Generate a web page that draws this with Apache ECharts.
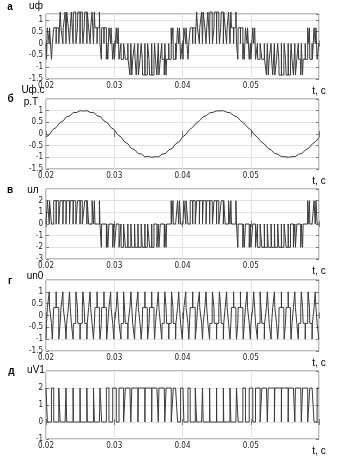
<!DOCTYPE html>
<html>
<head>
<meta charset="utf-8">
<script src="https://cdn.jsdelivr.net/npm/echarts@6/dist/echarts.min.js"></script>
<style>
html, body { margin: 0; padding: 0; background: #fff; }
#chart { width: 353px; height: 456px; }
</style>
</head>
<body>
<div id="chart"></div>
<script>
// time window, s
const tStart = 0.02
const tEnd = 0.06
// PWM carrier period, s
const carrierT = 0.001
// duty of the upper switch of legs A, B, C in each carrier period (0.02 .. 0.06)
const dutyA = [0.60, 0.74, 0.86, 0.94, 0.98, 0.97, 0.91, 0.82, 0.69, 0.55,
  0.40, 0.26, 0.14, 0.06, 0.02, 0.03, 0.09, 0.18, 0.31, 0.45,
  0.60, 0.74, 0.86, 0.94, 0.98, 0.97, 0.91, 0.82, 0.69, 0.55,
  0.40, 0.26, 0.14, 0.06, 0.02, 0.03, 0.09, 0.18, 0.31, 0.45]
const dutyB = [0.04, 0.02, 0.05, 0.11, 0.22, 0.36, 0.50, 0.65, 0.79, 0.89,
  0.96, 0.98, 0.95, 0.89, 0.78, 0.64, 0.50, 0.35, 0.21, 0.11,
  0.04, 0.02, 0.05, 0.11, 0.22, 0.36, 0.50, 0.65, 0.79, 0.89,
  0.96, 0.98, 0.95, 0.89, 0.78, 0.64, 0.50, 0.35, 0.21, 0.11]
const dutyC = [0.85, 0.74, 0.60, 0.44, 0.30, 0.18, 0.08, 0.03, 0.02, 0.06,
  0.15, 0.26, 0.40, 0.56, 0.70, 0.82, 0.92, 0.97, 0.98, 0.94,
  0.85, 0.74, 0.60, 0.44, 0.30, 0.18, 0.08, 0.03, 0.02, 0.06,
  0.15, 0.26, 0.40, 0.56, 0.70, 0.82, 0.92, 0.97, 0.98, 0.94]
// filtered phase voltage (panel б), one value every 0.0005 s from 0.02
const filtStep = 0.0005
const uFilt = [-0.13, -0.03, 0.19, 0.28, 0.48, 0.56, 0.74, 0.78, 0.92, 0.92,
  1.00, 0.98, 1.00, 0.92, 0.92, 0.78, 0.74, 0.56, 0.48, 0.28,
  0.19, -0.03, -0.13, -0.34, -0.42, -0.62, -0.68, -0.84, -0.86, -0.98,
  -0.96, -1.00, -0.97, -0.98, -0.86, -0.84, -0.68, -0.62, -0.42, -0.34,
  -0.13, -0.02, 0.18, 0.29, 0.47, 0.57, 0.73, 0.79, 0.91, 0.93,
  0.99, 0.99, 1.00, 0.93, 0.91, 0.79, 0.73, 0.57, 0.47, 0.29,
  0.18, -0.02, -0.14, -0.33, -0.43, -0.61, -0.69, -0.83, -0.87, -0.97,
  -0.97, -1.00, -0.97, -0.97, -0.87, -0.83, -0.69, -0.61, -0.43, -0.33, -0.15]
// x tick labels
const xTickLabels = ['0.02', '0.03', '0.04', '0.05', 't, c']
// panels: letter, y name lines, y range and tick step
const panelLetters = ['а', 'б', 'в', 'г', 'д']
const panelNames = [['uф'], ['Uф.с', 'р.Т'], ['uл'], ['un0'], ['uV1']]
const yMins = [-1.5, -1.5, -3, -1.5, -1]
const yMaxs = [1.25, 1.5, 3, 1.5, 3]
const ySteps = [0.5, 0.5, 1, 0.5, 1]

// layout of the five plot boxes
const boxTop = [14, 99, 189, 280, 371]
const boxHeight = [65, 70, 70, 71, 72]
const boxLeft = 46
const boxRight = 34

// switch state of a leg at time t
function legOn (duty, t) {
  let k = Math.floor((t - tStart) / carrierT)
  if (k < 0) k = 0
  if (k > duty.length - 1) k = duty.length - 1
  const c = tStart + (k + 0.5) * carrierT
  return Math.abs(t - c) < duty[k] * carrierT / 2 ? 1 : 0
}

// all switching instants of the three legs
const edges = [tStart, tEnd]
;[dutyA, dutyB, dutyC].forEach(duty => {
  duty.forEach((d, k) => {
    const c = tStart + (k + 0.5) * carrierT
    edges.push(c - d * carrierT / 2, c + d * carrierT / 2)
  })
})
edges.sort((a, b) => a - b)

const phaseData = []
const lineData = []
const neutralData = []
const switchData = []
for (let i = 0; i < edges.length - 1; i++) {
  const t0 = edges[i]
  const t1 = edges[i + 1]
  if (t1 - t0 < 1e-9) continue
  const mid = (t0 + t1) / 2
  const sA = legOn(dutyA, mid)
  const sB = legOn(dutyB, mid)
  const sC = legOn(dutyC, mid)
  const uPh = (4 * sA - 2 * sB - 2 * sC) / 3
  const uL = 2 * (sA - sB)
  const uN = (2 * sA + 2 * sB + 2 * sC - 3) / 3
  const uV = 2 * (1 - sA)
  phaseData.push([t0, uPh], [t1, uPh])
  lineData.push([t0, uL], [t1, uL])
  neutralData.push([t0, uN], [t1, uN])
  switchData.push([t0, uV], [t1, uV])
}
const filtData = uFilt.map((v, i) => [tStart + i * filtStep, v])
const panelData = [phaseData, filtData, lineData, neutralData, switchData]

const chart = echarts.init(document.getElementById('chart'))

const grids = []
const xAxes = []
const yAxes = []
const series = []
const graphics = []
const font = 'Liberation Sans, Arial, sans-serif'
const tickFont = '"Liberation Sans Narrow", "DejaVu Sans Condensed", "Liberation Sans", sans-serif'

panelData.forEach((data, i) => {
  grids.push({
    left: boxLeft,
    right: boxRight,
    top: boxTop[i],
    height: boxHeight[i],
    show: true,
    borderColor: '#7a7a7a',
    borderWidth: 1
  })
  // bottom axis with labels
  xAxes.push({
    gridIndex: i,
    type: 'value',
    min: tStart,
    max: tEnd,
    interval: 0.01,
    axisLine: { show: false },
    axisTick: { inside: true, length: 3, lineStyle: { color: '#7a7a7a' } },
    splitLine: { show: true, lineStyle: { color: '#e3e3e3', width: 1 } },
    axisLabel: {
      margin: 3,
      fontSize: 8,
      fontFamily: tickFont,
      color: '#222',
      showMinLabel: true,
      showMaxLabel: true,
      formatter: v => {
        const idx = Math.round((v - tStart) / 0.01)
        if (idx === 4) return '{t|' + xTickLabels[idx] + '}'
        return xTickLabels[idx] || ''
      },
      rich: {
        t: { fontSize: 10, fontFamily: font, color: '#000', padding: [4, 0, 0, 0] }
      }
    }
  })
  // top axis, ticks only
  xAxes.push({
    gridIndex: i,
    type: 'value',
    position: 'top',
    min: tStart,
    max: tEnd,
    interval: 0.01,
    axisLine: { show: false },
    axisTick: { inside: true, length: 3, lineStyle: { color: '#7a7a7a' } },
    splitLine: { show: false },
    axisLabel: { show: false }
  })
  yAxes.push({
    gridIndex: i,
    type: 'value',
    min: yMins[i],
    max: yMaxs[i],
    interval: ySteps[i],
    axisLine: { show: false },
    axisTick: { inside: true, length: 3, lineStyle: { color: '#7a7a7a' } },
    splitLine: { show: true, lineStyle: { color: '#e3e3e3', width: 1 } },
    axisLabel: {
      margin: 3,
      fontSize: 8,
      fontFamily: tickFont,
      color: '#222',
      showMaxLabel: false,
      formatter: v => {
        const r = Math.round(v / ySteps[i]) * ySteps[i]
        if (Math.abs(r - v) > 1e-6) return ''
        return String(Math.round(r * 100) / 100)
      }
    }
  })
  yAxes.push({
    gridIndex: i,
    type: 'value',
    position: 'right',
    min: yMins[i],
    max: yMaxs[i],
    interval: ySteps[i],
    axisLine: { show: false },
    axisTick: { inside: true, length: 3, lineStyle: { color: '#7a7a7a' } },
    splitLine: { show: false },
    axisLabel: { show: false }
  })
  series.push({
    type: 'line',
    xAxisIndex: 2 * i,
    yAxisIndex: 2 * i,
    data: data,
    showSymbol: false,
    clip: false,
    lineStyle: { color: '#3a3a3a', width: 1 },
    animation: false
  })
})

// panel letters and y names
const letterPos = [[10, 7], [10.5, 99], [10, 190], [10, 281], [11.5, 371]]
const namePos = [[[36, 6]], [[33, 90], [31, 102.5]], [[33, 190]], [[35, 276.5]], [[36, 370.5]]]
panelLetters.forEach((l, i) => {
  graphics.push({
    type: 'text',
    x: letterPos[i][0],
    y: letterPos[i][1],
    style: { text: l, font: 'bold 10px ' + font, fill: '#000', align: 'center', verticalAlign: 'middle' }
  })
  panelNames[i].forEach((n, j) => {
    graphics.push({
      type: 'text',
      x: namePos[i][j][0],
      y: namePos[i][j][1],
      style: { text: n, font: '10px ' + font, fill: '#000', align: 'center', verticalAlign: 'middle' }
    })
  })
})

chart.setOption({
  animation: false,
  grid: grids,
  xAxis: xAxes,
  yAxis: yAxes,
  series: series,
  graphic: graphics
})
</script>
</body>
</html>
